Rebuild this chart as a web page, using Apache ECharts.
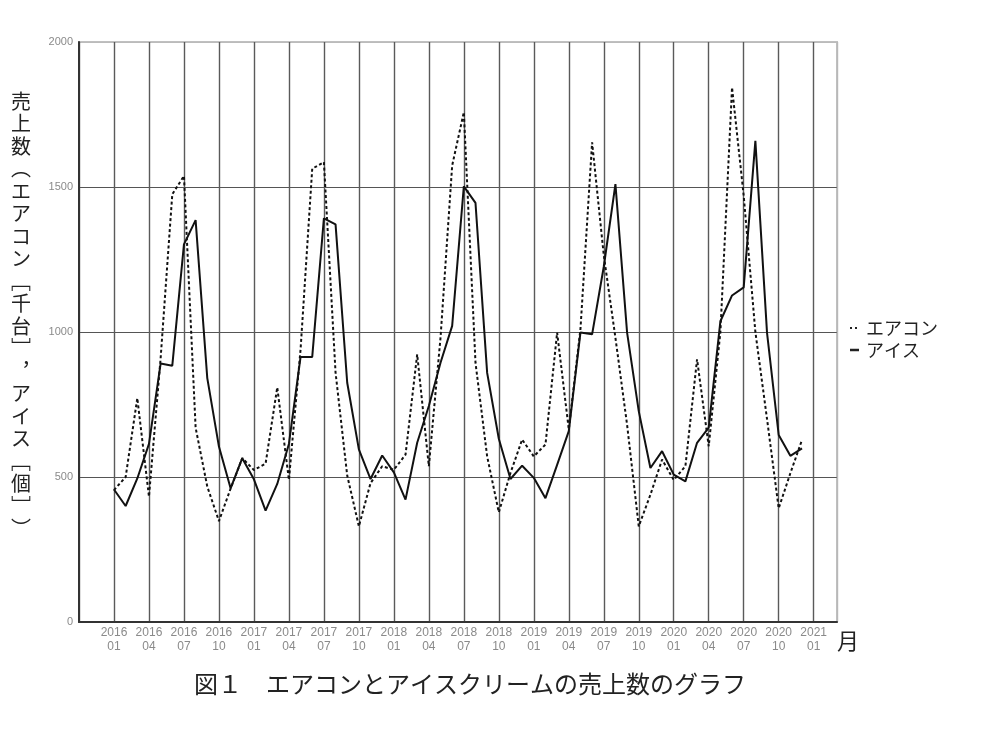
<!DOCTYPE html>
<html>
<head>
<meta charset="utf-8">
<script src="https://cdn.jsdelivr.net/npm/echarts@6/dist/echarts.min.js"></script>
<style>
html,body{margin:0;padding:0;background:#fff;}
#chart{width:1000px;height:730px;}
</style>
</head>
<body>
<div id="chart"></div>
<script>
// Months (categories), 2016/01 .. 2020/12
const months = [];
for (let y = 2016; y <= 2020; y++) for (let m = 1; m <= 12; m++) months.push(y + '/' + String(m).padStart(2, '0'));

// エアコン [千台] (dashed)
const aircon = [455, 500, 772, 432, 910, 1475, 1538, 670, 467, 348,
                460, 565, 524, 546, 809, 490, 940, 1563, 1586, 860,
                505, 330, 479, 537, 525, 577, 923, 537, 980, 1574,
                1758, 894, 571, 378, 514, 629, 571, 612, 998, 664,
                1010, 1654, 1265, 980, 680, 330, 439, 560, 490, 537,
                906, 606, 1000, 1843, 1470, 1000, 700, 392, 513, 628];

// アイス [個] (solid)
const ice = [457, 400, 495, 614, 891, 884, 1302, 1386, 841, 605,
             461, 565, 492, 384, 476, 614, 914, 914, 1392, 1371,
             825, 595, 493, 574, 516, 422, 618, 745, 894, 1021,
             1502, 1445, 859, 632, 493, 539, 497, 427, 542, 658,
             998, 992, 1225, 1510, 998, 727, 531, 589, 508, 485,
             618, 670, 1037, 1126, 1154, 1659, 997, 645, 573, 599];

// tick labels (quarterly)
const tickLabels = ['2016\n01','2016\n04','2016\n07','2016\n10',
                    '2017\n01','2017\n04','2017\n07','2017\n10',
                    '2018\n01','2018\n04','2018\n07','2018\n10',
                    '2019\n01','2019\n04','2019\n07','2019\n10',
                    '2020\n01','2020\n04','2020\n07','2020\n10',
                    '2021\n01'];

const seriesNames = ['エアコン', 'アイス'];

const yTitle = ['売','上','数','︵','エ','ア','コ','ン','﹇','千','台','﹈','︐','ア','イ','ス','﹇','個','﹈','︶'];

const chart = echarts.init(document.getElementById('chart'));

const xColors = [];
for (let i = 0; i < 23; i++) xColors.push(i === 22 ? '#b8b8b8' : '#5a5a5a');

chart.setOption({
  animation: false,
  backgroundColor: '#fff',
  grid: {left: 79, top: 42, width: 758, height: 580, show: true, borderColor: '#c0c0c0', borderWidth: 2, containLabel: false},
  xAxis: {
    type: 'value', min: -3, max: 62, interval: 3,
    axisLine: {show: true, onZero: false, lineStyle: {color: '#333', width: 2}},
    axisTick: {show: false},
    splitLine: {show: true, lineStyle: {color: xColors, width: 1.4}},
    axisLabel: {
      margin: 4, color: '#8a8a8a', fontSize: 12, lineHeight: 14, fontFamily: '"Liberation Sans", Arial',
      showMaxLabel: false, showMinLabel: false,
      formatter: function (v) {
        if (v < 0 || v % 3 !== 0) return '';
        return tickLabels[v / 3] || '';
      }
    }
  },
  yAxis: {
    type: 'value', min: 0, max: 2000, interval: 500,
    axisLine: {show: true, onZero: false, lineStyle: {color: '#333', width: 2}},
    axisTick: {show: false},
    splitLine: {show: true, lineStyle: {color: ['#555', '#555', '#555', '#555', '#bbb'], width: 1.2}},
    axisLabel: {margin: 6, color: '#8a8a8a', fontSize: 11, fontFamily: '"Liberation Sans", Arial',
      formatter: function (v) { return String(v); }}
  },
  series: [
    {
      name: seriesNames[0], type: 'line', symbol: 'none',
      data: aircon.map((v, i) => [i, v]),
      lineStyle: {color: '#111', width: 2, type: [3, 2.5]},
      z: 3
    },
    {
      name: seriesNames[1], type: 'line', symbol: 'none',
      data: ice.map((v, i) => [i, v]),
      lineStyle: {color: '#111', width: 2},
      z: 4
    }
  ],
  graphic: [
    {
      type: 'text', x: 21, y: 90,
      style: {
        text: yTitle.join('\n'), fontSize: 20, lineHeight: 22.5,
        fontFamily: '"Noto Sans CJK JP"', fill: '#222', align: 'center', verticalAlign: 'top'
      }
    },
    // legend
    {type: 'line', shape: {x1: 850, y1: 328, x2: 859, y2: 328}, style: {stroke: '#222', lineWidth: 2, lineDash: [2, 3]}},
    {type: 'text', x: 866, y: 328, style: {text: seriesNames[0], fontSize: 18, fontFamily: '"Noto Sans CJK JP"', fill: '#222', verticalAlign: 'middle'}},
    {type: 'line', shape: {x1: 850, y1: 350, x2: 859, y2: 350}, style: {stroke: '#222', lineWidth: 2.5}},
    {type: 'text', x: 866, y: 350, style: {text: seriesNames[1], fontSize: 18, fontFamily: '"Noto Sans CJK JP"', fill: '#222', verticalAlign: 'middle'}},
    {
      type: 'text', x: 848, y: 641,
      style: {text: '月', fontSize: 22, fontFamily: '"Noto Sans CJK JP"', fill: '#222', align: 'center', verticalAlign: 'middle'}
    },
    {
      type: 'text', x: 470, y: 684,
      style: {text: '図１　エアコンとアイスクリームの売上数のグラフ', fontSize: 24, fontFamily: '"Noto Sans CJK JP"', fill: '#222', align: 'center', verticalAlign: 'middle'}
    }
  ]
});
</script>
</body>
</html>
